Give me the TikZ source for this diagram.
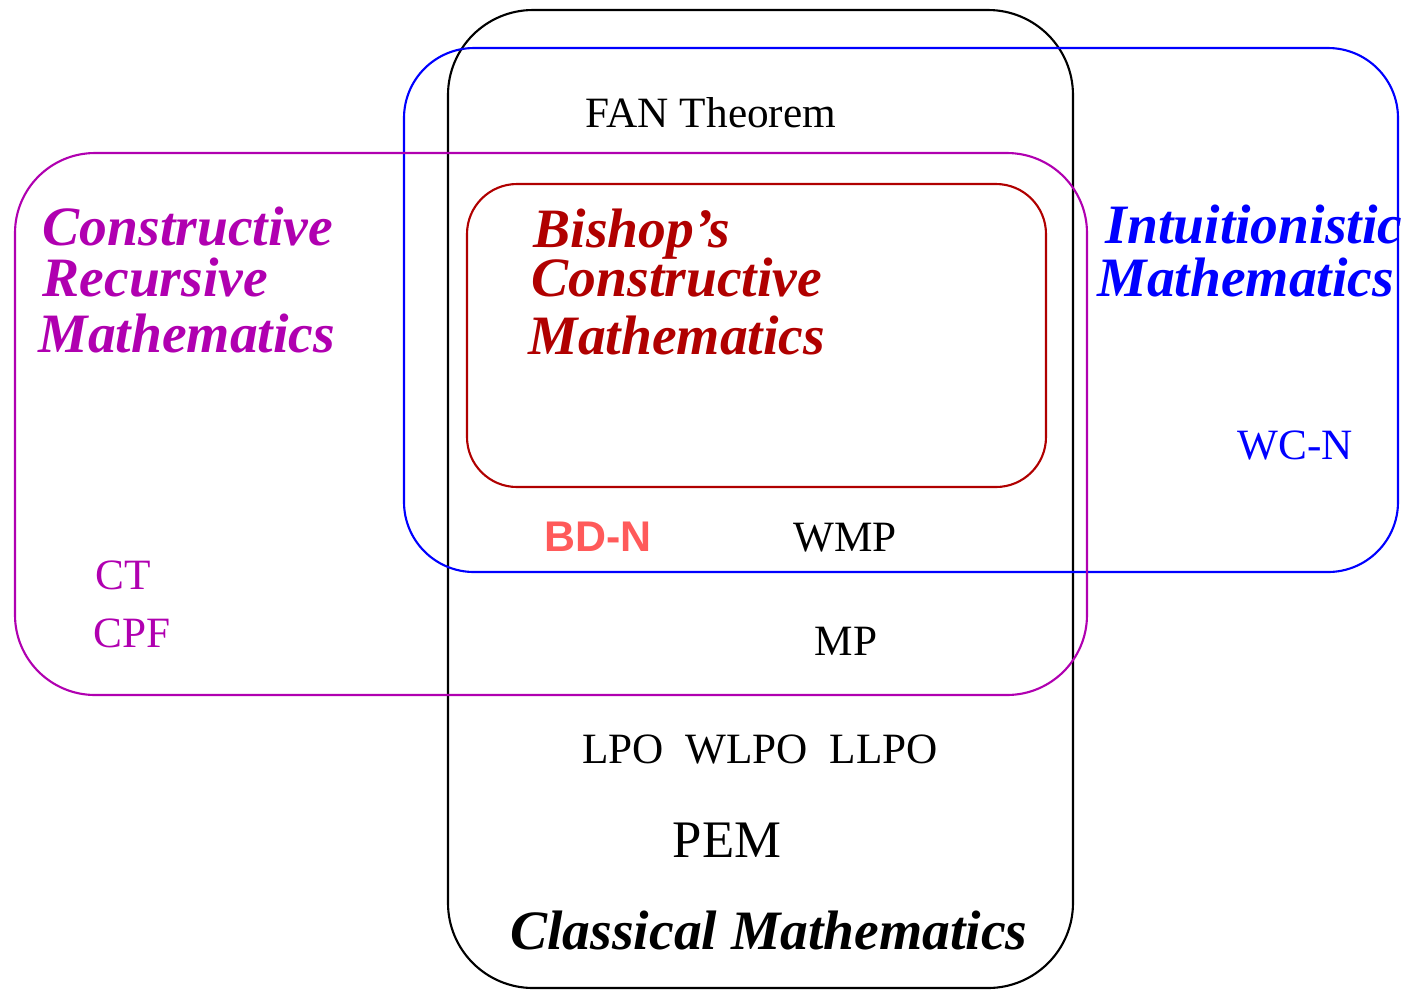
\documentclass[tikz,border=0pt]{standalone}
\usepackage{fontspec}
\setmainfont{Liberation Serif}
\setsansfont{Liberation Sans}
\usetikzlibrary{positioning}
\definecolor{recpurple}{RGB}{176,0,176}
\definecolor{intblue}{RGB}{0,0,255}
\definecolor{bishred}{RGB}{176,0,0}
\definecolor{bdnred}{RGB}{255,90,90}

\begin{document}
\begin{tikzpicture}[x=0.01cm, y=-0.01cm,
 every node/.style={inner sep=0pt, font=\fontsize{12.3}{14}\selectfont},
 region/.style={line width=0.6pt, rounded corners=#1},
 title/.style={anchor=base west, font=\fontsize{15.8}{18}\selectfont\bfseries\itshape},
 axiom/.style={anchor=base}]
\useasboundingbox (0,0) rectangle (1405,990);
\draw[region=8.5mm] (448,10) rectangle (1073,988);
\draw[region=7mm, intblue] (404,48) rectangle (1398,572);
\draw[region=8mm, recpurple] (15,153) rectangle (1087,695);
\draw[region=5mm, bishred] (467,184) rectangle (1046,487);
\node[axiom] (fan) at (711,127) {FAN Theorem};
\node[title, bishred] (bish1) at (533,247) {Bishop’s};
\node[title, bishred] (bish2) at (531,296) {Constructive};
\node[title, bishred] (bish3) at (528,354) {Mathematics};
\node[title, recpurple] (crm1) at (42,245) {Constructive};
\node[title, recpurple] (crm2) at (42,296) {Recursive};
\node[title, recpurple] (crm3) at (38,352) {Mathematics};
\node[title, intblue] (int1) at (1105,243) {Intuitionistic};
\node[title, intblue] (int2) at (1097,296) {Mathematics};
\node[axiom, intblue] (wcn) at (1295,459) {WC-N};
\node[axiom, bdnred, font=\fontsize{12.2}{14}\sffamily\bfseries] (bdn) at (598,551) {BD-N};
\node[axiom] (wmp) at (845,551) {WMP};
\node[axiom, recpurple] (ct) at (123,589) {CT};
\node[axiom, recpurple] (cpf) at (132,647) {CPF};
\node[axiom] (mp) at (846,655) {MP};
\node[axiom] (lpo) at (760,763) {LPO\enspace WLPO\enspace LLPO};
\node[axiom, font=\fontsize{15}{18}\selectfont] (pem) at (727,857) {PEM};
\node[title, anchor=base] (cm) at (769,949) {Classical Mathematics};
\end{tikzpicture}
\end{document}
